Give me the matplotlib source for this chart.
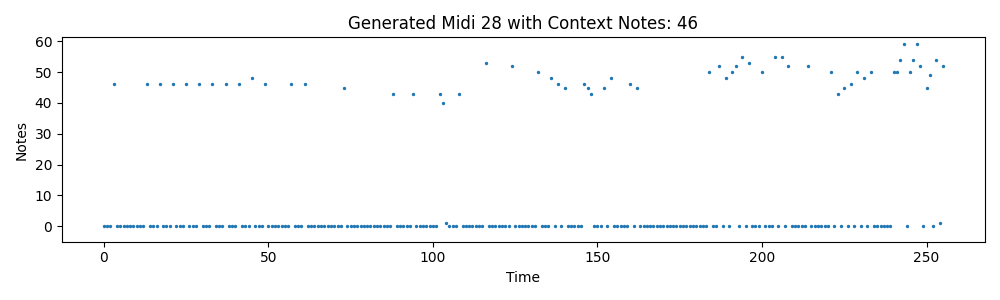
import numpy as np
import matplotlib
matplotlib.use("Agg")
import matplotlib.pyplot as plt

# sequence length (time steps 0..255)
n_steps = 256

# non-zero note events: time index -> midi note value
note_times = [3, 13, 17, 21, 25, 29, 33, 37, 41, 45, 49, 57, 61, 73, 88, 94,
              102, 103, 104, 108, 116, 124, 132, 136, 138, 140, 146, 147, 148,
              152, 154, 160, 162, 184, 187, 189, 191, 192, 194, 196, 200, 204,
              206, 208, 214, 221, 223, 225, 227, 229, 231, 233, 240, 241, 242,
              243, 245, 246, 247, 248, 250, 251, 253, 254, 255]
note_vals = [46, 46, 46, 46, 46, 46, 46, 46, 46, 48, 46, 46, 46, 45, 43, 43,
             43, 40, 1, 43, 53, 52, 50, 48, 46, 45, 46, 45, 43,
             45, 48, 46, 45, 50, 52, 48, 50, 52, 55, 53, 50, 55,
             55, 52, 52, 50, 43, 45, 46, 50, 48, 50, 50, 50, 54,
             59, 50, 54, 59, 52, 45, 49, 54, 1, 52]

title = "Generated Midi 28 with Context Notes: 46"

# every other step is a rest (0)
notes = np.zeros(n_steps)
notes[note_times] = note_vals
time_idx = np.arange(n_steps)

fig = plt.figure(figsize=(10, 3), dpi=100)
ax = fig.add_subplot(1, 1, 1)
ax.scatter(time_idx, notes, s=2)
ax.set_ylim(-5, 61.3)
ax.set_title(title)
ax.set_xlabel("Time")
ax.set_ylabel("Notes")
fig.tight_layout()
fig.savefig("out.png")
